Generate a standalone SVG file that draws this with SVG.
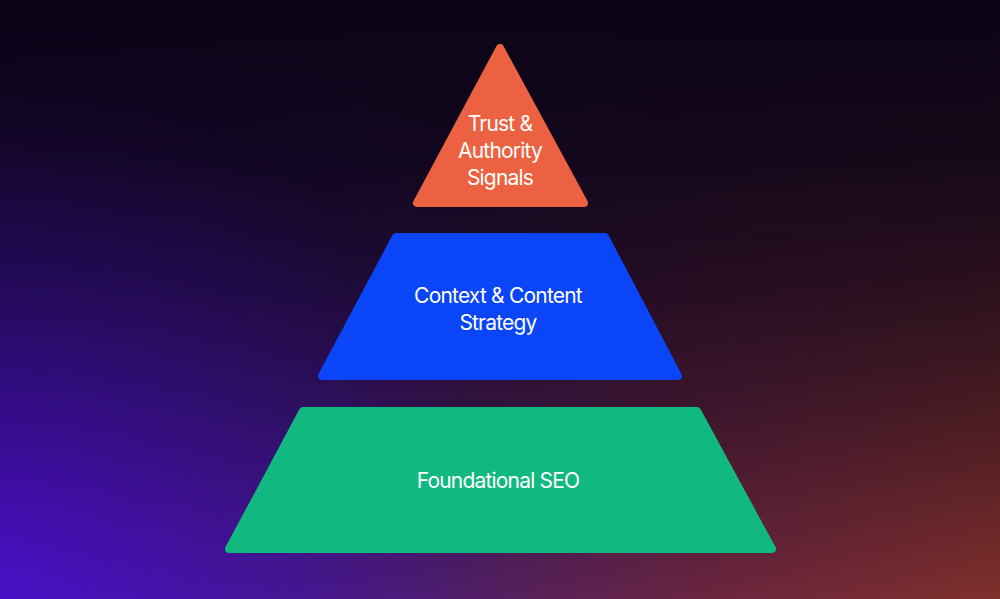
<svg xmlns="http://www.w3.org/2000/svg" width="1000" height="599" viewBox="0 0 1000 599">
  <defs>
    <linearGradient id="bgHoriz" x1="0" y1="0" x2="1" y2="0">
      <stop offset="0" stop-color="#4a0fc4"/>
      <stop offset="0.3" stop-color="#4a1890"/>
      <stop offset="0.5" stop-color="#55205f"/>
      <stop offset="0.7" stop-color="#6a2540"/>
      <stop offset="1" stop-color="#80302c"/>
    </linearGradient>
    <linearGradient id="fadeV" x1="0" y1="0" x2="0" y2="1">
      <stop offset="0" stop-color="#fff" stop-opacity="0"/>
      <stop offset="0.25" stop-color="#fff" stop-opacity="0.08"/>
      <stop offset="0.5" stop-color="#fff" stop-opacity="0.3"/>
      <stop offset="0.7" stop-color="#fff" stop-opacity="0.55"/>
      <stop offset="1" stop-color="#fff" stop-opacity="1"/>
    </linearGradient>
    <mask id="bgMask" maskUnits="userSpaceOnUse" x="0" y="0" width="1000" height="599">
      <rect x="0" y="0" width="1000" height="599" fill="url(#fadeV)"/>
    </mask>
    <radialGradient id="glowPurple" gradientUnits="userSpaceOnUse" cx="0" cy="599" r="520">
      <stop offset="0" stop-color="#4a10c8" stop-opacity="0.6"/>
      <stop offset="1" stop-color="#30107a" stop-opacity="0"/>
    </radialGradient>
    <style>
      .lbl { font-family: Inter, "Liberation Sans", Arial, sans-serif; font-size: 21px; fill: #ffffff; text-anchor: middle; letter-spacing: -0.8px; font-weight: 400; }
      .tier { stroke-linejoin: round; stroke-width: 8; }
    </style>
  </defs>

  <rect x="0" y="0" width="1000" height="599" fill="#0c0517"/>
  <rect x="0" y="0" width="1000" height="599" fill="url(#bgHoriz)" mask="url(#bgMask)"/>
  <rect x="0" y="0" width="1000" height="599" fill="url(#glowPurple)"/>

  <g id="connectors"></g>

  <g id="tier-trust">
    <polygon class="tier" points="500,48 417,203 584,203" fill="#ec6141" stroke="#ec6141"/>
    <text class="lbl" x="500" y="131">Trust &amp;</text>
    <text class="lbl" x="500" y="158">Authority</text>
    <text class="lbl" x="500" y="185">Signals</text>
  </g>

  <g id="tier-context">
    <polygon class="tier" points="396,237 605,237 678,376 322,376" fill="#0a45f7" stroke="#0a45f7"/>
    <text class="lbl" x="498" y="303">Context &amp; Content</text>
    <text class="lbl" x="498" y="330">Strategy</text>
  </g>

  <g id="tier-foundational">
    <polygon class="tier" points="303,411 697,411 772,549 229,549" fill="#11b981" stroke="#11b981"/>
    <text class="lbl" x="498" y="488">Foundational SEO</text>
  </g>
</svg>
